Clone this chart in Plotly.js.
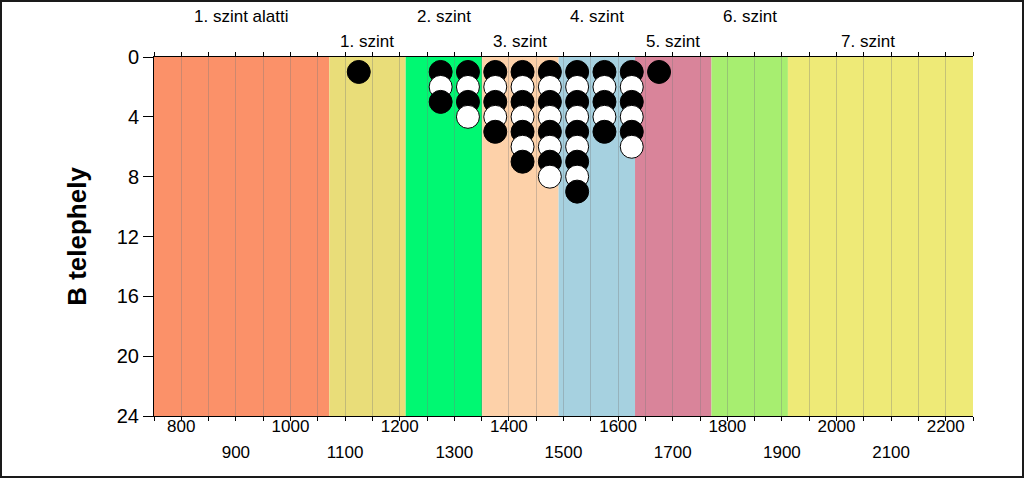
<!DOCTYPE html>
<html>
<head>
<meta charset="utf-8">
<script src="https://cdn.plot.ly/plotly-3.0.1.min.js"></script>
<style>
  html, body { margin: 0; padding: 0; background: #ffffff; }
  #chart { width: 1020px; height: 474px; border: 2px solid #1a1a1a; }
</style>
</head>
<body>
<div id="chart"></div>
<script>
// ---- data ----
const bandLabels = ['1. szint alatti', '1. szint', '2. szint', '3. szint', '4. szint', '5. szint', '6. szint', '7. szint'];
const bandEdges = [750, 1071, 1211, 1351, 1491, 1631, 1771, 1911, 2205];
const bandColors = ['#FB9169', '#E9DD79', '#00F872', '#FDD1A9', '#A6D1E0', '#D9849A', '#A7EE70', '#EEEA77'];
const binCenters = [1125, 1275, 1325, 1375, 1425, 1475, 1525, 1575, 1625, 1675];
const binCounts = [1, 3, 4, 5, 7, 8, 9, 5, 6, 1];
const xRowOneTicks = [800, 1000, 1200, 1400, 1600, 1800, 2000, 2200];
const xRowTwoTicks = [900, 1100, 1300, 1500, 1700, 1900, 2100];
const yTicks = [0, 4, 8, 12, 16, 20, 24];
const xRange = [750, 2250];
const yRange = [24, 0];
const yTitle = 'B telephely';

// ---- dots (stacked, alternating black/white) ----
const dx = [], dy = [], dc = [];
binCenters.forEach((c, i) => {
  for (let k = 1; k <= binCounts[i]; k++) {
    dx.push(c); dy.push(k); dc.push(k % 2 === 1 ? '#000000' : '#ffffff');
  }
});

const traces = [
  {
    type: 'scatter', mode: 'markers', x: dx, y: dy, xaxis: 'x', yaxis: 'y',
    marker: { size: 23, color: dc, line: { color: '#000000', width: 1 } },
    hoverinfo: 'x+y', showlegend: false
  },
  {
    type: 'scatter', mode: 'markers', x: [xRange[0]], y: [yRange[0]], xaxis: 'x2', yaxis: 'y',
    marker: { size: 1, opacity: 0 }, hoverinfo: 'skip', showlegend: false
  }
];

// ---- bands & labels ----
const shapes = [];
const annotations = [];
for (let i = 0; i < bandLabels.length; i++) {
  const x0 = bandEdges[i];
  const x1 = (i === bandLabels.length - 1) ? xRange[1] : bandEdges[i + 1];
  shapes.push({
    type: 'rect', xref: 'x', yref: 'paper', x0: x0, x1: x1, y0: 0, y1: 1,
    fillcolor: bandColors[i], line: { width: 0 }, layer: 'below'
  });
  annotations.push({
    text: bandLabels[i], xref: 'x', yref: 'paper',
    x: (bandEdges[i] + bandEdges[i + 1]) / 2, y: 1,
    xanchor: 'center', yanchor: 'middle',
    yshift: (i % 2 === 0) ? 41 : 16,
    showarrow: false,
    font: { family: 'Liberation Sans, Arial, sans-serif', size: 17, color: '#000000' }
  });
}

// every 50 units: tick + grid, labels only on row-one values
const allTickVals = [];
const allTickText = [];
for (let v = xRange[0]; v <= xRange[1]; v += 50) {
  allTickVals.push(v);
  allTickText.push(xRowOneTicks.includes(v) ? String(v) : '');
}

const layout = {
  width: 1020, height: 474,
  margin: { l: 152, r: 49, t: 55, b: 60 },
  paper_bgcolor: '#ffffff', plot_bgcolor: '#ffffff',
  font: { family: 'Liberation Sans, Arial, sans-serif', color: '#000000' },
  showlegend: false,
  xaxis: {
    range: xRange, tickmode: 'array', tickvals: allTickVals, ticktext: allTickText,
    ticks: 'outside', ticklen: 4, tickwidth: 1, tickcolor: '#000000',
    showline: true, linecolor: '#000000', linewidth: 1, mirror: 'ticks',
    showgrid: true, gridcolor: 'rgba(120,120,120,0.35)', gridwidth: 1,
    zeroline: false, tickfont: { size: 17 }, ticklabelstandoff: -9, fixedrange: true
  },
  xaxis2: {
    range: xRange, overlaying: 'x', side: 'bottom', anchor: 'y',
    tickmode: 'array', tickvals: xRowTwoTicks, ticktext: xRowTwoTicks.map(String),
    ticks: '', showline: false, showgrid: false, zeroline: false,
    ticklabelstandoff: 24, tickfont: { size: 17 }, fixedrange: true
  },
  yaxis: {
    range: yRange, tickmode: 'array', tickvals: yTicks,
    ticks: 'outside', ticklen: 10, tickwidth: 1, tickcolor: '#000000',
    showline: true, linecolor: '#000000', linewidth: 1,
    showgrid: false, zeroline: false, tickfont: { size: 20 },
    title: { text: yTitle, font: { size: 26, weight: 'bold' }, standoff: 22 },
    fixedrange: true
  },
  shapes: shapes,
  annotations: annotations
};

Plotly.newPlot('chart', traces, layout, { displayModeBar: false, staticPlot: true });
</script>
</body>
</html>
